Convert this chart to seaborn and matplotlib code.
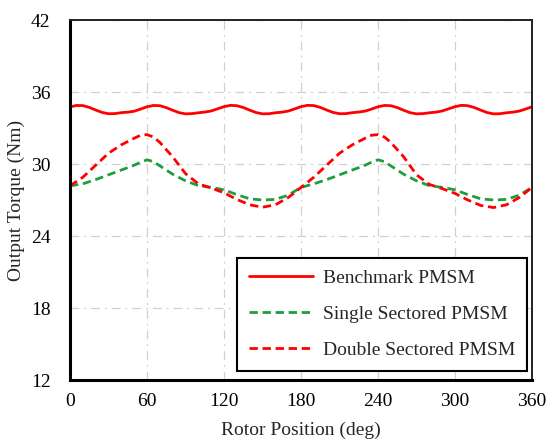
import numpy as np
import pandas as pd
import seaborn as sns
import matplotlib.pyplot as plt

# rotor position (deg)
angle_fine = list(range(0, 361, 5))
angle = [0, 10, 20, 30, 40, 50, 55, 60, 65, 70, 80, 90, 100, 110, 120, 130, 140, 150, 160, 170,
         180, 190, 200, 210, 220, 230, 235, 240, 245, 250, 260, 270, 280, 290, 300, 310, 320, 330, 340, 350, 360]

benchmark = [34.76, 34.88, 34.87, 34.72, 34.50, 34.30, 34.19, 34.20, 34.28, 34.32, 34.40, 34.58,
             34.77, 34.88, 34.86, 34.70, 34.48, 34.28, 34.18, 34.20, 34.27, 34.33, 34.42, 34.60,
             34.78, 34.89, 34.86, 34.71, 34.49, 34.29, 34.18, 34.19, 34.27, 34.32, 34.41, 34.59,
             34.78, 34.89, 34.87, 34.72, 34.50, 34.30, 34.19, 34.20, 34.28, 34.33, 34.41, 34.58,
             34.77, 34.88, 34.86, 34.70, 34.48, 34.28, 34.18, 34.20, 34.27, 34.32, 34.42, 34.60,
             34.78, 34.89, 34.86, 34.71, 34.49, 34.29, 34.18, 34.19, 34.27, 34.32, 34.41, 34.58,
             34.77]

single = [28.18, 28.35, 28.7, 29.1, 29.5, 29.9, 30.15, 30.35, 30.2, 29.85, 29.15, 28.6, 28.2, 28.05,
          27.85, 27.45, 27.1, 27.0, 27.05, 27.4,
          28.05, 28.35, 28.7, 29.1, 29.5, 29.9, 30.15, 30.35, 30.2, 29.85, 29.15, 28.6, 28.2, 28.05,
          27.85, 27.45, 27.1, 27.0, 27.05, 27.4, 28.05]

double = [28.18, 28.9, 29.9, 30.9, 31.6, 32.15, 32.4, 32.45, 32.25, 31.8, 30.6, 29.2, 28.35, 28.0,
          27.6, 27.05, 26.6, 26.4, 26.6, 27.2,
          28.05, 28.9, 29.9, 30.9, 31.6, 32.15, 32.4, 32.45, 32.25, 31.8, 30.6, 29.1, 28.3, 27.95,
          27.55, 27.0, 26.55, 26.37, 26.6, 27.2, 28.05]

xticks = [0, 60, 120, 180, 240, 300, 360]
yticks = [12, 18, 24, 30, 36, 42]

sns.set_style('white')
plt.rcParams['font.family'] = ['Liberation Serif', 'DejaVu Serif']
plt.rcParams['font.size'] = 14

fig = plt.figure(figsize=(5.47, 4.41), dpi=100)
ax = fig.add_axes([0.128, 0.1383, 0.8446, 0.8163])

sns.lineplot(x=angle_fine, y=benchmark, ax=ax, color='#ff0000', lw=2.0,
             label='Benchmark PMSM')
sns.lineplot(x=angle, y=single, ax=ax, color='#1e9e3c', lw=2.0,
             label='Single Sectored PMSM')
sns.lineplot(x=angle, y=double, ax=ax, color='#ff0000', lw=2.0,
             label='Double Sectored PMSM')
ax.lines[1].set_dashes([3, 1.7])
ax.lines[2].set_dashes([3, 1.7])

ax.set_xlim(0, 360)
ax.set_ylim(12, 42)
ax.set_xticks(xticks)
ax.set_yticks(yticks)
ax.grid(True, color='#d0d0d0', lw=0.9, linestyle=(0, (7, 4, 1.5, 4)))
ax.tick_params(direction='in', length=4, width=1.5, labelsize=14, colors='black')
ax.tick_params(axis='x', pad=9)
ax.tick_params(axis='y', pad=14)

for side in ['left', 'bottom']:
    ax.spines[side].set_linewidth(2.2)
    ax.spines[side].set_color('black')
for side in ['top', 'right']:
    ax.spines[side].set_linewidth(1.4)
    ax.spines[side].set_color('#222222')

ax.set_xlabel('Rotor Position (deg)', fontsize=14, labelpad=9)
ax.set_ylabel('Output Torque (Nm)', fontsize=14, labelpad=4)

leg = ax.legend(loc='lower right', bbox_to_anchor=(0.989, 0.026), borderaxespad=0,
                fontsize=14, handlelength=3.3, labelspacing=0.95, fancybox=False,
                framealpha=1, edgecolor='black', borderpad=0.6, handletextpad=0.5)
leg.get_frame().set_linewidth(1.5)
for h in leg.get_lines():
    h.set_linewidth(2.0)

fig.savefig('out.png', dpi=100)
